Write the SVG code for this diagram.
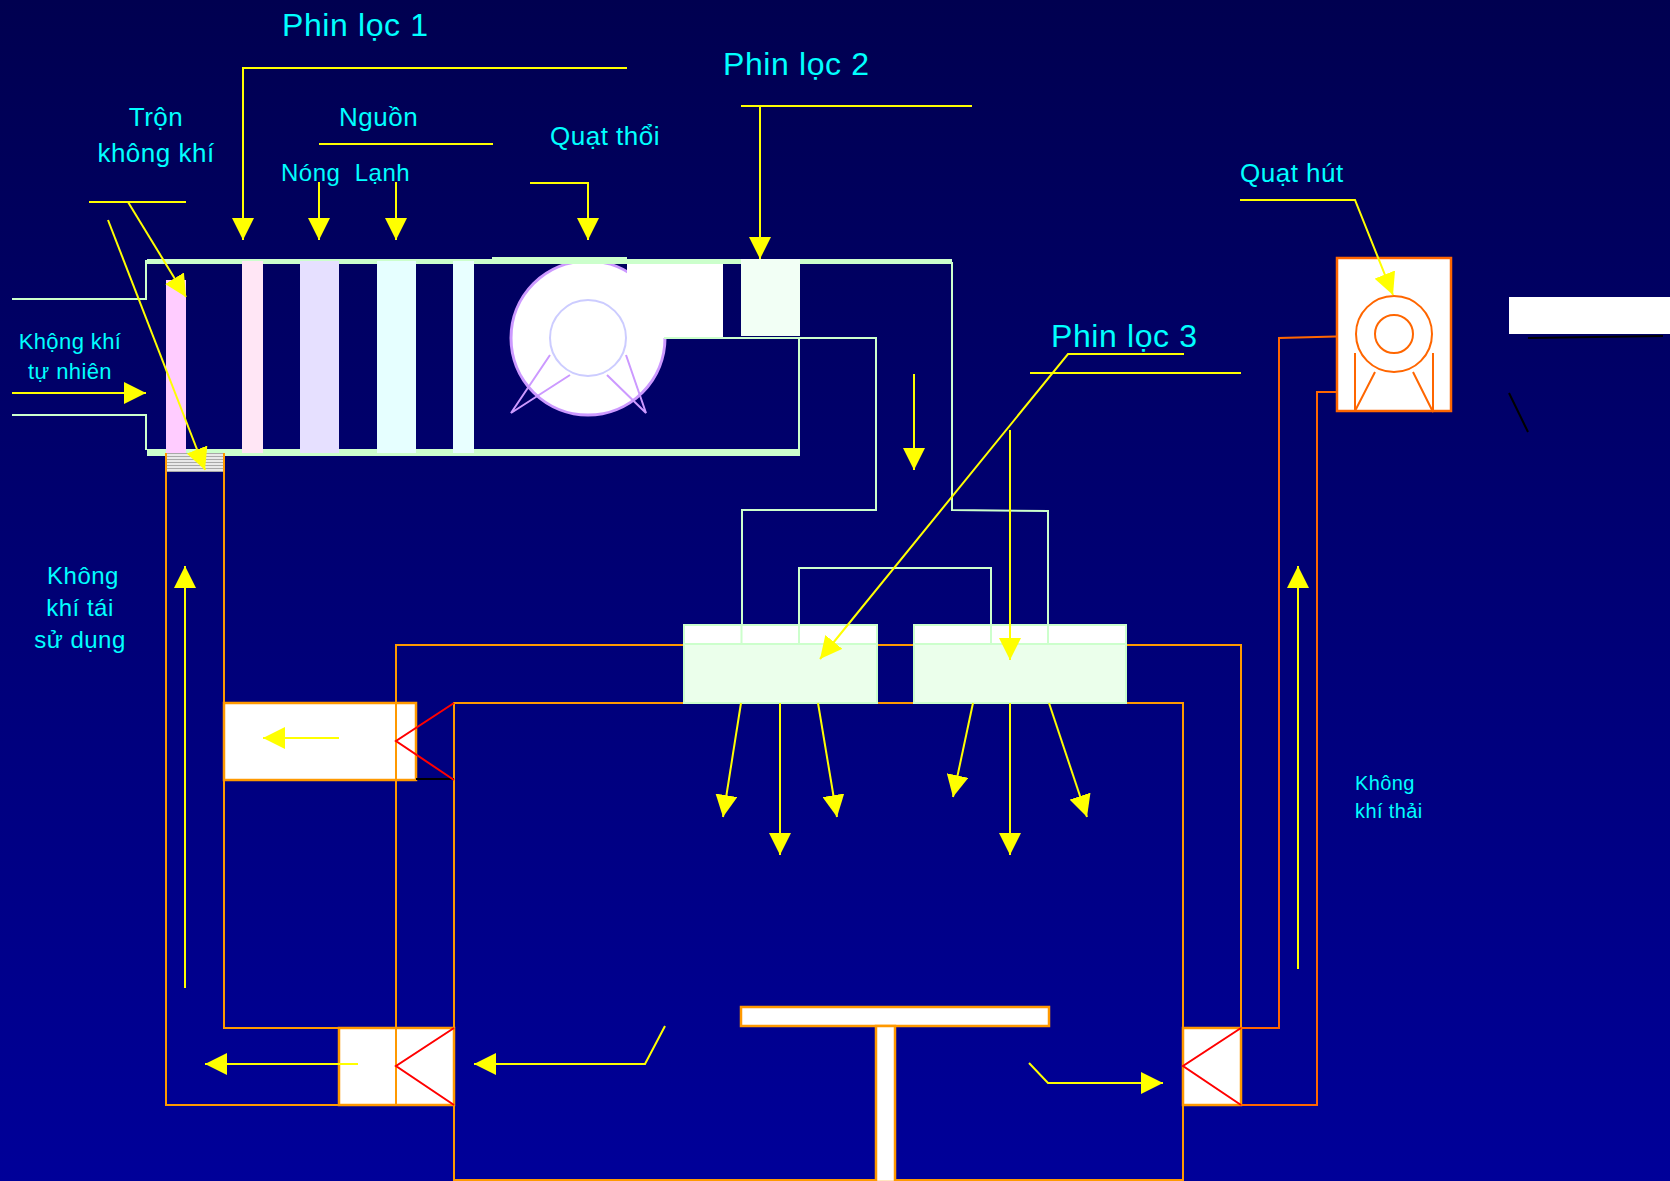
<svg xmlns="http://www.w3.org/2000/svg" width="1670" height="1181" viewBox="0 0 1670 1181">
<style>
text{font-family:"Liberation Sans",Arial,sans-serif;fill:#00ffff;white-space:pre}
.c{text-anchor:middle}
.y{fill:none;stroke:#ffff00;stroke-width:2;marker-end:url(#ah)}
.yn{fill:none;stroke:#ffff00;stroke-width:2}
.o{fill:none;stroke:#ff9900;stroke-width:2}
.od{fill:none;stroke:#ff6600;stroke-width:2}
.g{fill:none;stroke:#ccffcc;stroke-width:2}
.gb{fill:#ccffcc}
.r{fill:none;stroke:#ff0000;stroke-width:2}
.w{fill:#fff;stroke:#ff9900;stroke-width:2.5}
.k{fill:none;stroke:#000;stroke-width:2}
.f{fill:none;stroke:#cc99ff;stroke-width:2}
</style>
<defs>
<linearGradient id="bg" x1="0" y1="0" x2="0" y2="1"><stop offset="0" stop-color="#000050"/><stop offset="1" stop-color="#000099"/></linearGradient>
<pattern id="hatch" width="4" height="3" patternUnits="userSpaceOnUse"><rect width="4" height="3" fill="#e8e8e8"/><rect width="4" height="1" fill="#a8a8a8"/></pattern>
<marker id="ah" markerUnits="userSpaceOnUse" markerWidth="22" markerHeight="22" viewBox="0 0 20 20" refX="20" refY="10" orient="auto"><path d="M0 0L20 10L0 20Z" fill="#ffff00"/></marker>
</defs>
<rect id="background" width="1670" height="1181" fill="url(#bg)"/>

<g id="room">
<rect x="454" y="703" width="729" height="477" fill="none" stroke="#ff9900" stroke-width="2"/>
</g>
<g id="duct-lines">
<path class="o" d="M224 472V1028H340"/>
<path class="o" d="M166 472V1105H340"/>
<path class="o" d="M396 1105V645H1241V1028"/>
</g>
<g id="return-box">
<rect class="w" x="224" y="703" width="192" height="77"/>
<path class="o" d="M396 703V780"/>
<path class="k" d="M416 779H454"/>
<path class="r" d="M454 703L396 741L454 780"/>
</g>
<g id="lower-left-box">
<rect class="w" x="339" y="1028" width="115" height="77"/>
<path class="o" d="M396 1028V1105"/>
<path class="r" d="M454 1028L396 1066L454 1105"/>
</g>
<g id="lower-right-box">
<rect class="w" x="1183" y="1028" width="58" height="77"/>
<path class="r" d="M1241 1028L1183 1066L1241 1105"/>
</g>
<g id="table">
<rect class="w" x="741" y="1007" width="308" height="19"/>
<rect class="w" x="876" y="1026" width="19" height="156"/>
</g>
<g id="exhaust-fan">
<path class="od" d="M1241 1028H1279V338L1355 336"/>
<path class="od" d="M1241 1105H1317V392H1337"/>
<rect x="1337" y="258" width="114" height="153" fill="#fff" stroke="#ff6600" stroke-width="2.5"/>
<circle cx="1394" cy="334" r="38" fill="none" stroke="#ff6600" stroke-width="2"/>
<circle cx="1394" cy="334" r="19" fill="none" stroke="#ff6600" stroke-width="2"/>
<path class="od" d="M1355 353V411L1375 372M1433 353V412L1413 372"/>
</g>
<g id="white-panel">
<rect x="1509" y="297" width="161" height="37" fill="#fff"/>
<path class="k" d="M1528 338L1663 336M1509 393L1528 432"/>
</g>
<g id="supply-fan">
<circle cx="588" cy="338" r="77" fill="#fff" stroke="#cc99ff" stroke-width="3"/>
<circle cx="588" cy="338" r="38" fill="#fff" stroke="#ccccff" stroke-width="2"/>
<rect x="627" y="263" width="96" height="75" fill="#fff"/>
<path class="f" d="M550 355L511 413L570 375M626 355L646 413L607 375"/>
</g>
<g id="duct">
<path class="g" d="M12 299H146V260M12 415H146V450"/>
<rect class="gb" x="147" y="259" width="805" height="5"/>
<rect class="gb" x="492" y="257" width="135" height="6"/>
<rect class="gb" x="147" y="449" width="653" height="7"/>
<path class="g" d="M664 338H876V510H742V643"/>
<path class="g" d="M952 262V510L1048 511V643"/>
<path class="g" d="M799 338V450"/>
<path class="g" d="M799 643V568H991V643"/>
</g>
<g id="mix-filter"><rect x="166" y="280" width="20" height="173" fill="#ffccff"/></g>
<g id="filter-1"><rect x="242" y="261" width="21" height="192" fill="#ffe6f5"/></g>
<g id="heater"><rect x="300" y="261" width="39" height="192" fill="#e6e0ff"/></g>
<g id="cooler"><rect x="377" y="261" width="39" height="192" fill="#e6ffff"/></g>
<g id="filter-5"><rect x="453" y="261" width="21" height="192" fill="#e8ffff"/></g>
<g id="mix-damper">
<rect x="166" y="453" width="58" height="19" fill="url(#hatch)"/>
<path class="o" d="M166 453V472M224 453V472"/>
</g>
<g id="filter-2"><rect x="741" y="259" width="59" height="77" fill="#f2fff5"/></g>
<g id="diffuser-left">
<rect x="684" y="625" width="193" height="78" fill="#ebffeb" stroke="#ccffcc" stroke-width="2"/>
<rect x="685" y="626" width="191" height="18" fill="#fff"/>
<path class="g" d="M684 644H877M741.500 625V644M799 625V644"/>
</g>
<g id="diffuser-right">
<rect x="914" y="625" width="212" height="78" fill="#ebffeb" stroke="#ccffcc" stroke-width="2"/>
<rect x="915" y="626" width="210" height="18" fill="#fff"/>
<path class="g" d="M914 644H1126M991 625V644M1048 625V644"/>
</g>

<g id="connectors">
<path class="y" d="M627 68H243V240"/>
<path class="yn" d="M319 144H493"/>
<path class="y" d="M319 182V240"/>
<path class="y" d="M396 182V240"/>
<path class="yn" d="M89 202H186"/>
<path class="y" d="M128 202L186 297"/>
<path class="y" d="M108 220L205 470"/>
<path class="y" d="M12 393H146"/>
<path class="y" d="M530 183H588V240"/>
<path class="y" d="M741 106H972M760 106V259"/>
<path class="y" d="M914 374V470"/>
<path class="y" d="M1184 354H1068L820 659"/>
<path class="yn" d="M1030 373H1241"/>
<path class="y" d="M1010 430V660"/>
<path class="y" d="M1240 200H1355L1393 295"/>
<path class="y" d="M741 703L723 817"/>
<path class="y" d="M780 703V855"/>
<path class="y" d="M818 703L837 817"/>
<path class="y" d="M973 703L953 797"/>
<path class="y" d="M1010 703V855"/>
<path class="y" d="M1049 703L1087 817"/>
<path class="y" d="M339 738H263"/>
<path class="y" d="M358 1064H205"/>
<path class="y" d="M185 988V566"/>
<path class="y" d="M665 1026L645 1064H474"/>
<path class="y" d="M1029 1063L1048 1083H1163"/>
<path class="y" d="M1298 969V566"/>
</g>

<g id="labels">
<text x="282" y="36" font-size="32" letter-spacing="0.6">Phin lọc 1</text>
<text x="723" y="75" font-size="32" letter-spacing="0.6">Phin lọc 2</text>
<text x="1051" y="347" font-size="32" letter-spacing="0.6">Phin lọc 3</text>
<text class="c" x="156" y="126" font-size="26" letter-spacing="0.5">Trộn</text>
<text class="c" x="156" y="162" font-size="26" letter-spacing="0.5">không khí</text>
<text x="339" y="126" font-size="26" letter-spacing="0.5">Nguồn</text>
<text x="281" y="181" font-size="24" letter-spacing="0.5">Nóng  Lạnh</text>
<text x="550" y="145" font-size="26" letter-spacing="0.5">Quạt thổi</text>
<text x="1240" y="182" font-size="26" letter-spacing="0.5">Quạt hút</text>
<text class="c" x="70" y="349" font-size="22" letter-spacing="0.4">Khộng khí</text>
<text class="c" x="70" y="379" font-size="22" letter-spacing="0.4">tự nhiên</text>
<text class="c" x="83" y="584" font-size="24" letter-spacing="0.5">Không</text>
<text class="c" x="80" y="616" font-size="24" letter-spacing="0.5">khí tái</text>
<text class="c" x="80" y="648" font-size="24" letter-spacing="0.5">sử dụng</text>
<text x="1355" y="790" font-size="20" letter-spacing="0.4">Không</text>
<text x="1355" y="818" font-size="20" letter-spacing="0.4">khí thải</text>
</g>
</svg>
